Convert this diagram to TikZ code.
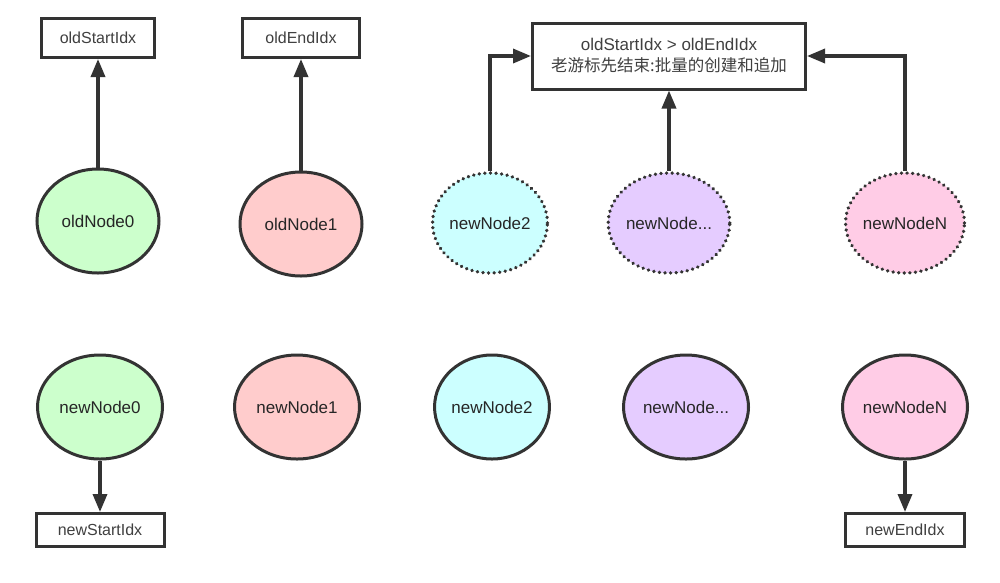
\documentclass[tikz,border=0pt]{standalone}
\usepackage{fontspec}
\setmainfont{Liberation Sans}
\newfontfamily\cjk{Noto Sans CJK SC}
\usetikzlibrary{arrows.meta,shapes.geometric}
\definecolor{edge}{HTML}{333333}
\definecolor{cgreen}{HTML}{CCFFCC}
\definecolor{cred}{HTML}{FFCCCC}
\definecolor{ccyan}{HTML}{CCFFFF}
\definecolor{cpurple}{HTML}{E5CCFF}
\definecolor{cpink}{HTML}{FFCCE6}
\begin{document}
\begin{tikzpicture}[x=1pt,y=-1pt,
  every node/.style={text=black!85},
  idxbox/.style={draw=edge,line width=3pt,fill=white,rectangle,inner sep=0pt,text=black!75,font=\fontsize{16}{19}\selectfont},
  vnode/.style={draw=edge,line width=3pt,ellipse,inner sep=0pt,minimum width=122pt,minimum height=104pt,font=\fontsize{17}{20}\selectfont},
  dnode/.style={vnode,minimum width=112pt,minimum height=100pt,line cap=round,dash pattern=on 0.1pt off 5.5pt,line width=3.6pt},
  conn/.style={draw=edge,line width=3.4pt,-{Triangle[width=14pt,length=18pt]}}
]
\useasboundingbox[fill=white] (0,0) rectangle (1000,582);

% top index boxes
\node[idxbox,minimum width=113pt,minimum height=39pt] (bos) at (98,38) {oldStartIdx};
\node[idxbox,minimum width=117pt,minimum height=39pt] (boe) at (301,38) {oldEndIdx};
\node[idxbox,minimum width=273pt,minimum height=66pt,align=center,font=\fontsize{17}{21}\selectfont] (big) at (669,56)
  {oldStartIdx > oldEndIdx\\{\cjk\fontsize{16.5}{20}\selectfont 老游标先结束:批量的创建和追加}};

% old row
\node[vnode,fill=cgreen] (o0) at (98,221) {oldNode0};
\node[vnode,fill=cred] (o1) at (301,224) {oldNode1};
\node[dnode,fill=ccyan] (d2) at (490,223) {newNode2};
\node[dnode,fill=cpurple] (dd) at (669,223) {newNode...};
\node[dnode,fill=cpink] (dn) at (905,223) {newNodeN};

% new row
\node[vnode,fill=cgreen,minimum width=125pt] (m0) at (100,407) {newNode0};
\node[vnode,fill=cred,minimum width=125pt] (m1) at (297,407) {newNode1};
\node[vnode,fill=ccyan,minimum width=112pt] (m2) at (492,407) {newNode2};
\node[vnode,fill=cpurple,minimum width=125pt] (md) at (686,407) {newNode...};
\node[vnode,fill=cpink,minimum width=125pt] (mn) at (905,407) {newNodeN};

% bottom index boxes
\node[idxbox,minimum width=128pt,minimum height=33pt] (bns) at (100,530) {newStartIdx};
\node[idxbox,minimum width=119pt,minimum height=33pt] (bne) at (905,530) {newEndIdx};

% connectors
\draw[conn] (o0.north) -- (bos.south);
\draw[conn] (o1.north) -- (boe.south);
\draw[conn] (d2.north) |- (big.west);
\draw[conn] (dd.north) -- (big.south);
\draw[conn] (dn.north) |- (big.east);
\draw[conn] (m0.south) -- (bns.north);
\draw[conn] (mn.south) -- (bne.north);
\end{tikzpicture}
\end{document}
